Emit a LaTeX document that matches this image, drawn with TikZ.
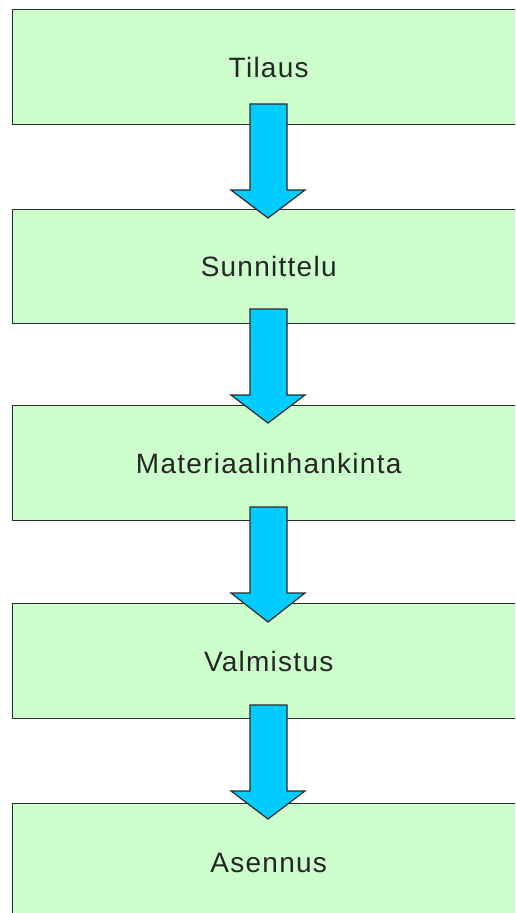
\documentclass[tikz,border=0pt]{standalone}
\usepackage{fontspec}
\setmainfont{Liberation Sans}
\newfontfamily\stagefont[LetterSpace=4.5]{Liberation Sans}
\definecolor{boxgreen}{HTML}{CCFFCC}
\definecolor{arrowblue}{HTML}{00CCFF}
\definecolor{edgegray}{HTML}{2A2A2A}
\begin{document}
\begin{tikzpicture}[x=1pt,y=-1pt,
  stagebox/.style={draw=edgegray, line width=1.4pt, fill=boxgreen, rectangle,
    minimum width=512pt, anchor=north west, inner sep=0pt,
    font=\stagefont\fontsize{28}{32}\selectfont, text=black!85},
  blockarrow/.style={draw=edgegray, line width=1.2pt, fill=arrowblue, line join=miter}]
\useasboundingbox (0,0) rectangle (515,913);
\clip (0,0) rectangle (515,913);
\fill[white] (0,0) rectangle (515,913);
\node[stagebox, minimum height=115pt] (b1) at (12,9) {Tilaus};
\node[stagebox, minimum height=114pt] (b2) at (12,209) {Sunnittelu};
\node[stagebox, minimum height=115pt] (b3) at (12,405) {Materiaalinhankinta};
\node[stagebox, minimum height=115pt] (b4) at (12,603) {Valmistus};
\node[stagebox, minimum height=118pt] (b5) at (12,803) {Asennus};
% block arrows between stages
\draw[blockarrow] (250,104) -- (287,104) -- (287,190) -- (305,190) -- (268,218) -- (231,190) -- (250,190) -- cycle;
\draw[blockarrow] (250,309) -- (287,309) -- (287,395) -- (305,395) -- (268,423) -- (231,395) -- (250,395) -- cycle;
\draw[blockarrow] (250,507) -- (287,507) -- (287,593) -- (305,593) -- (268,622) -- (231,593) -- (250,593) -- cycle;
\draw[blockarrow] (250,705) -- (287,705) -- (287,791) -- (305,791) -- (268,819) -- (231,791) -- (250,791) -- cycle;
\end{tikzpicture}
\end{document}
